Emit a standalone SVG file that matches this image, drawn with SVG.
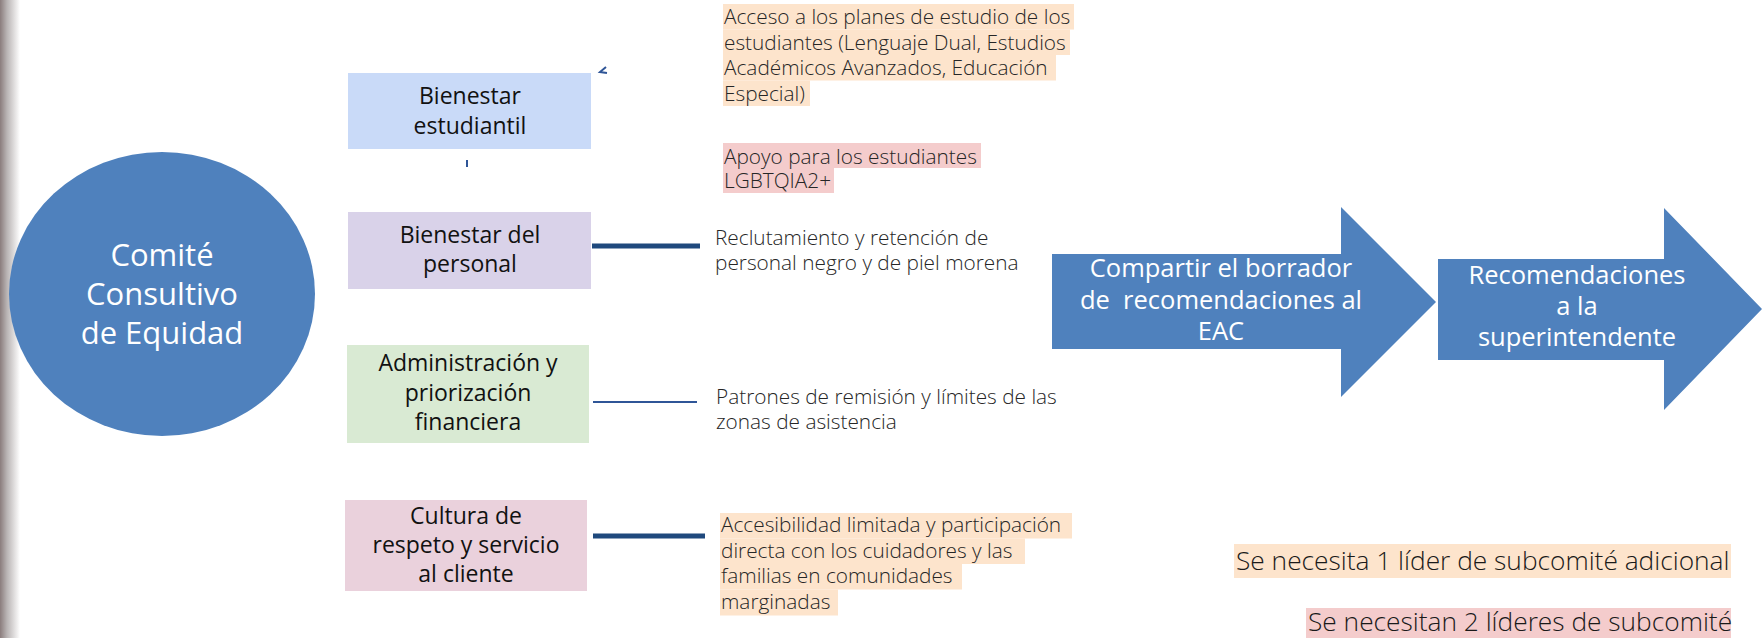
<svg xmlns="http://www.w3.org/2000/svg" width="1762" height="638" viewBox="0 0 1762 638">
<defs>
<linearGradient id="edge" x1="0" y1="0" x2="1" y2="0">
<stop offset="0" stop-color="#8a7c7c"/>
<stop offset="0.35" stop-color="#b9b4b4"/>
<stop offset="1" stop-color="#ffffff"/>
</linearGradient>
<style>
text{font-family:"Open Sans","Liberation Sans",sans-serif}
.box{font-size:23px;fill:#111;text-anchor:middle}
.note{font-size:20.8px;fill:#262626;font-weight:300}
.big{font-size:26.3px;fill:#1a1a1a;font-weight:300}
.wt{fill:#fff;text-anchor:middle}
.peach{fill:#fde4cc}
.pink{fill:#f4cccc}
.blue{fill:#4f81bd}
.thick{stroke:#1f497d;stroke-width:5;fill:none}
.thin{stroke:#2f5597;stroke-width:2;fill:none}
</style>
</defs>
<rect width="1762" height="638" fill="#fff"/>
<rect x="0" y="0" width="20" height="638" fill="url(#edge)"/>

<g id="comite">
<ellipse class="blue" cx="162" cy="294" rx="153" ry="142"/>
<text class="wt" font-size="31" x="162" y="266">Comité</text>
<text class="wt" font-size="31" x="162" y="305">Consultivo</text>
<text class="wt" font-size="31" x="162" y="344">de Equidad</text>
</g>

<g id="bienestar-estudiantil">
<rect x="348" y="73" width="243" height="76" fill="#c9daf8"/>
<text class="box" x="470" y="104">Bienestar</text>
<text class="box" x="470" y="134">estudiantil</text>
</g>

<g id="bienestar-personal">
<rect x="348" y="212" width="243" height="77" fill="#d9d2e9"/>
<text class="box" x="470" y="243">Bienestar del</text>
<text class="box" x="470" y="272">personal</text>
</g>

<g id="administracion">
<rect x="347" y="345" width="242" height="98" fill="#d9ead3"/>
<text class="box" x="468" y="371">Administración y</text>
<text class="box" x="468" y="401">priorización</text>
<text class="box" x="468" y="430">financiera</text>
</g>

<g id="cultura">
<rect x="345" y="500" width="242" height="91" fill="#ead1dc"/>
<text class="box" x="466" y="524">Cultura de</text>
<text class="box" x="466" y="553">respeto y servicio</text>
<text class="box" x="466" y="582">al cliente</text>
</g>

<g id="connectors">
<path class="thin" d="M606,67 L600,72 L607,73"/>
<path class="thin" d="M467,160 L467,167"/>
<path class="thick" d="M592,246 L700,246"/>
<path class="thin" d="M593,402 L697,402"/>
<path class="thick" d="M593,536 L705,536"/>
</g>

<g id="nota-acceso">
<rect class="peach" x="723" y="4" width="351" height="25.5"/>
<rect class="peach" x="723" y="29.5" width="347" height="25.5"/>
<rect class="peach" x="723" y="55" width="333" height="25.5"/>
<rect class="peach" x="723" y="80.5" width="87" height="25.5"/>
<text class="note" x="724" y="24">Acceso a los planes de estudio de los</text>
<text class="note" x="724" y="49.5">estudiantes (Lenguaje Dual, Estudios</text>
<text class="note" x="724" y="75">Académicos Avanzados, Educación</text>
<text class="note" x="724" y="100.5">Especial)</text>
</g>

<g id="nota-apoyo">
<rect class="pink" x="723" y="143" width="258" height="25"/>
<rect class="pink" x="723" y="168" width="111" height="25"/>
<text class="note" x="724" y="163.5">Apoyo para los estudiantes</text>
<text class="note" x="724" y="188">LGBTQIA2+</text>
</g>

<g id="nota-reclutamiento">
<text class="note" x="715" y="245">Reclutamiento y retención de</text>
<text class="note" x="715" y="270">personal negro y de piel morena</text>
</g>

<g id="nota-patrones">
<text class="note" x="716" y="404">Patrones de remisión y límites de las</text>
<text class="note" x="716" y="429">zonas de asistencia</text>
</g>

<g id="nota-accesibilidad">
<rect class="peach" x="720" y="513" width="352" height="25.5"/>
<rect class="peach" x="720" y="538.5" width="305" height="25.5"/>
<rect class="peach" x="720" y="564" width="242" height="25.5"/>
<rect class="peach" x="720" y="589.5" width="118" height="26"/>
<text class="note" x="721" y="532">Accesibilidad limitada y participación</text>
<text class="note" x="721" y="557.5">directa con los cuidadores y las</text>
<text class="note" x="721" y="583">familias en comunidades</text>
<text class="note" x="721" y="608.5">marginadas</text>
</g>

<g id="compartir">
<path class="blue" d="M1052,254 L1341,254 L1341,207 L1436,302 L1341,397 L1341,349 L1052,349 Z"/>
<text class="wt" font-size="25.5" x="1221" y="277">Compartir el borrador</text>
<text class="wt" font-size="25.5" x="1221" y="309" xml:space="preserve">de  recomendaciones al</text>
<text class="wt" font-size="25.5" x="1221" y="340">EAC</text>
</g>

<g id="recomendaciones">
<path class="blue" d="M1438,259 L1664,259 L1664,208 L1762,309 L1664,410 L1664,360 L1438,360 Z"/>
<text class="wt" font-size="25.5" x="1577" y="284">Recomendaciones</text>
<text class="wt" font-size="25.5" x="1577" y="315">a la</text>
<text class="wt" font-size="25.5" x="1577" y="346">superintendente</text>
</g>

<g id="leyenda">
<rect class="peach" x="1234" y="544" width="497" height="34"/>
<text class="big" x="1236" y="570">Se necesita 1 líder de subcomité adicional</text>
<rect class="pink" x="1306" y="608" width="425" height="34"/>
<text class="big" x="1308" y="631">Se necesitan 2 líderes de subcomité</text>
</g>
</svg>
